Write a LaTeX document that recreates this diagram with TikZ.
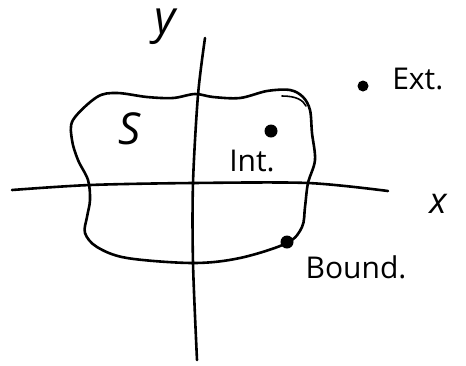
\documentclass[tikz,border=0pt]{standalone}
\usepackage{amsmath,amssymb}
\usepackage{fontspec}
\setmainfont{Open Sans}
\usepackage{tikz}
\usepackage{xcolor}

\begin{document}
\begin{tikzpicture}[x=1pt,y=-1pt,line width=2.6pt,line cap=round,
  lbl/.style={font=\fontsize{30}{32}\selectfont,inner sep=0pt},
  var/.style={inner sep=0pt}]
  \useasboundingbox (0,0) rectangle (466,365);
  % the region S
  \draw plot[smooth cycle,tension=0.55] coordinates {
    (97,97) (117,93) (147,97) (173,98) (195,94) (213,97) (240,98)
    (267,91) (290,90) (303,97) (310,110) (312,133) (315,160) (308,183)
    (305,207) (302,227) (287,243) (240,258) (193,263) (127,258)
    (97,247) (85,233) (87,217) (90,200) (88,180) (78,160) (72,140) (73,120)};
  \draw[line width=1.6pt] (282,96) .. controls (296,96) and (303,100) .. (306,106);
  % axes
  \draw plot[smooth,tension=0.5] coordinates {(12,190) (90,185) (193,183) (308,183) (388,191)};
  \draw plot[smooth,tension=0.5] coordinates {(205,38) (198,95) (193,183) (193,263) (197,360)};
  \node[var,font=\fontsize{46}{48}\selectfont\itshape] (ylab) at (165,27) {y};
  \node[var,font=\fontsize{36}{38}\selectfont\itshape] (xlab) at (438,204) {x};
  \node[var,font=\fontsize{44}{46}\selectfont\itshape] (slab) at (130,129) {S};
  % the three points
  \fill (363,86) circle (5.5pt);
  \node[lbl,anchor=west] (ext) at (391,79) {Ext.};
  \fill (271,131) circle (6.5pt);
  \node[lbl] (int) at (252,161) {Int.};
  \fill (287,242) circle (6.5pt);
  \node[lbl] (bound) at (356,267) {Bound.};
\end{tikzpicture}
\end{document}
